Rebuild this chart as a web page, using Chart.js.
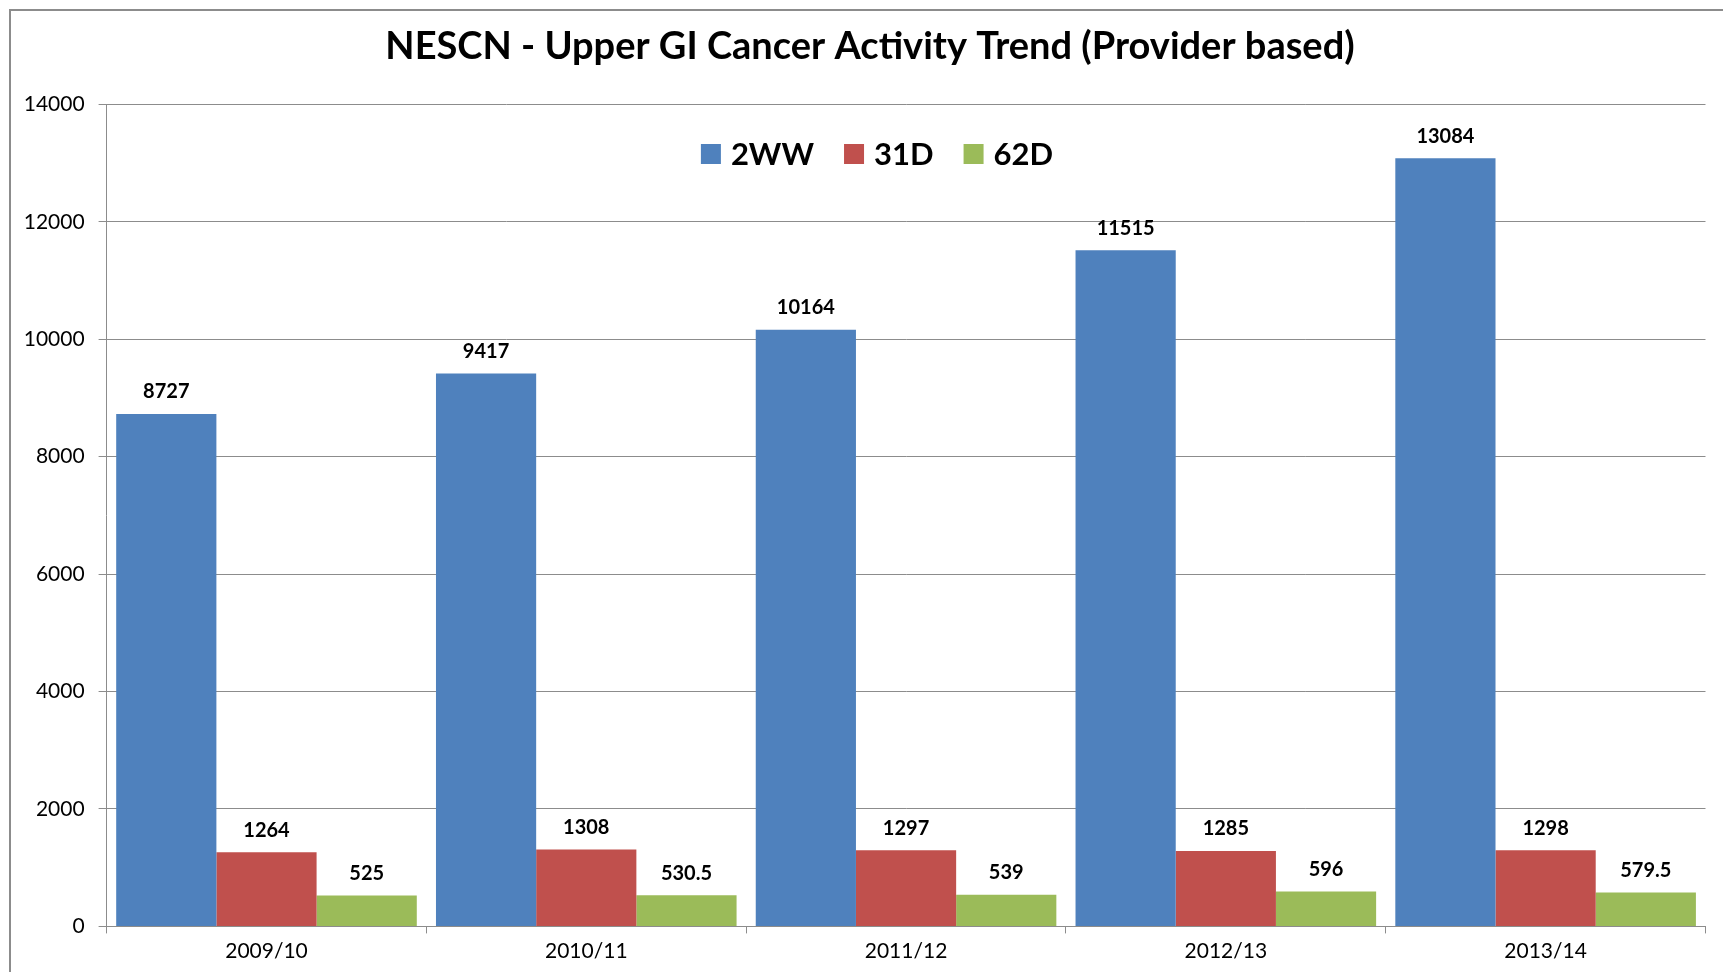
<!DOCTYPE html>
<html>
<head>
<meta charset="utf-8">
<script src="https://cdn.jsdelivr.net/npm/chart.js@4"></script>
<style>
  body { margin: 0; background: #fff; overflow: hidden; }
  #wrap { position: relative; width: 1723px; height: 972px; }
  #frame { position: absolute; left: 9px; top: 9px; width: 1800px; height: 1100px; border: 2px solid #8c8c8c; pointer-events: none; }
</style>
</head>
<body>
<div id="wrap">
  <canvas id="myChart" width="1723" height="972" style="width:1723px;height:972px"></canvas>
  <div id="frame"></div>
</div>
<script>
const years = ['2009/10', '2010/11', '2011/12', '2012/13', '2013/14'];
const twoWW = [8727, 9417, 10164, 11515, 13084];
const d31 = [1264, 1308, 1297, 1285, 1298];
const d62 = [525, 530.5, 539, 596, 579.5];
const chartTitle = 'NESCN - Upper GI Cancer Activity Trend (Provider based)';

const FONT = 'Lato, "Open Sans", sans-serif';

// title drawn by hand so it can sit where Excel put it
const titlePlugin = {
    id: 'titleText',
    afterDraw(chart) {
        const ctx = chart.ctx;
        ctx.save();
        ctx.font = 'bold 38px ' + FONT;
        ctx.fillStyle = '#000';
        ctx.textAlign = 'center';
        ctx.textBaseline = 'middle';
        ctx.fillText(chartTitle, 870, 47);
        ctx.restore();
    }
};

// legend sits inside the plot area
const legendPlugin = {
    id: 'insideLegend',
    afterDraw(chart) {
        const ctx = chart.ctx;
        ctx.save();
        ctx.font = 'bold 31px ' + FONT;
        ctx.textBaseline = 'middle';
        const box = 20, gapText = 10, gapItem = 30;
        const items = chart.data.datasets.map(ds => ({
            label: ds.label, color: ds.backgroundColor, w: ctx.measureText(ds.label).width
        }));
        let total = items.reduce((s, it) => s + box + gapText + it.w, 0) + gapItem * (items.length - 1);
        let x = 877 - total / 2;
        const y = 154;
        items.forEach(it => {
            ctx.fillStyle = it.color;
            ctx.fillRect(x, y - box / 2, box, box);
            ctx.fillStyle = '#000';
            ctx.fillText(it.label, x + box + gapText, y + 1);
            x += box + gapText + it.w + gapItem;
        });
        ctx.restore();
    }
};

const valueLabels = {
    id: 'valueLabels',
    afterDatasetsDraw(chart) {
        const ctx = chart.ctx;
        ctx.save();
        ctx.font = 'bold 20px ' + FONT;
        ctx.fillStyle = '#000';
        ctx.textAlign = 'center';
        ctx.textBaseline = 'middle';
        chart.data.datasets.forEach((ds, i) => {
            chart.getDatasetMeta(i).data.forEach((bar, j) => {
                ctx.fillText(String(ds.data[j]), bar.x, bar.y - 22);
            });
        });
        ctx.restore();
    }
};

const ctx = document.getElementById('myChart').getContext('2d');
const myChart = new Chart(ctx, {
    type: 'bar',
    data: {
        labels: years,
        datasets: [
            { label: '2WW', data: twoWW, backgroundColor: '#4F81BD' },
            { label: '31D', data: d31, backgroundColor: '#C0504D' },
            { label: '62D', data: d62, backgroundColor: '#9BBB59' }
        ]
    },
    options: {
        responsive: false,
        animation: false,
        layout: { padding: { top: 104.4, right: 17.5, left: 0, bottom: 0 } },
        datasets: { bar: { categoryPercentage: 0.94, barPercentage: 1.0 } },
        plugins: {
            legend: { display: false },
            title: { display: false },
            tooltip: { enabled: false }
        },
        scales: {
            x: {
                grid: { offset: true, drawOnChartArea: false, tickLength: 7, color: '#8c8c8c' },
                border: { color: '#8c8c8c' },
                ticks: { color: '#000', font: { family: FONT, size: 21 }, padding: 5 },
                afterFit: function (scale) { scale.height = 45.6; }
            },
            y: {
                min: 0,
                max: 14000,
                grid: { color: '#8c8c8c', tickLength: 8 },
                border: { color: '#8c8c8c' },
                ticks: {
                    stepSize: 2000,
                    color: '#000',
                    font: { family: FONT, size: 21 },
                    padding: 14,
                    callback: function (v) { return String(v); }
                },
                afterFit: function (scale) { scale.width = 106.6; }
            }
        }
    },
    plugins: [titlePlugin, legendPlugin, valueLabels]
});
</script>
</body>
</html>
